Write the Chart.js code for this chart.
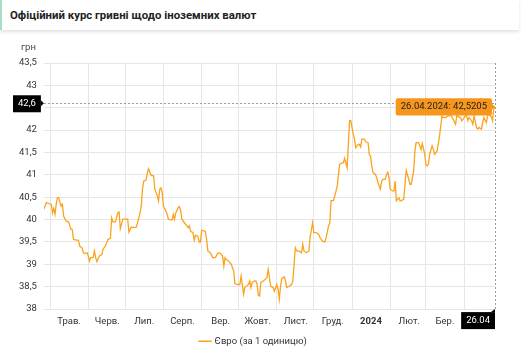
<!DOCTYPE html>
<html lang="uk">
<head>
<meta charset="utf-8">
<title>Офіційний курс гривні щодо іноземних валют</title>
<script src="https://cdn.jsdelivr.net/npm/chart.js@4.4.1/dist/chart.umd.min.js"></script>
<style>
    body {
        margin: 0;
        background: #fff;
        font-family: Roboto, "Noto Sans", sans-serif;
        width: 521px;
        height: 350px;
        overflow: hidden;
    }
    .header {
        position: absolute;
        top: 0;
        left: 0;
        width: 519px;
        height: 30px;
        border-left: 2px solid #a6dec4;
        box-shadow: 0 2px 3px rgba(0, 0, 0, 0.12);
        font-size: 11.4px;
        font-weight: bold;
        color: #222;
        line-height: 30px;
        padding-left: 8px;
        box-sizing: border-box;
    }
    .chart-box {
        position: absolute;
        top: 34px;
        left: 0;
        width: 521px;
        height: 322px;
    }
</style>
</head>
<body>
<div class="header">Офіційний курс гривні щодо іноземних валют</div>
<div class="chart-box"><canvas id="rateChart"></canvas></div>
<script>
// Курс євро: дні від 26.04.2023 та значення, грн за 1 одиницю
const startDate = new Date(2023, 3, 26);
const dayOffsets = [
    0, 2, 4, 6, 7, 8, 9, 10, 11, 12, 14, 15, 16, 18, 20, 22, 23, 24, 26, 28,
    29, 31, 32, 33, 35, 36, 37, 38, 40, 41, 42, 43, 45, 47, 48, 50, 51, 52, 54, 55,
    56, 58, 60, 61, 62, 64, 66, 68, 69, 71, 72, 75, 77, 78, 79, 80, 81, 83, 84, 85,
    86, 87, 89, 90, 92, 93, 94, 95, 96, 97, 99, 100, 101, 104, 105, 106, 107, 109, 110, 111,
    112, 114, 116, 117, 118, 119, 121, 122, 123, 125, 126, 127, 128, 131, 132, 133, 135, 137, 139, 140,
    141, 143, 145, 146, 147, 148, 150, 152, 154, 155, 157, 159, 160, 161, 162, 163, 165, 166, 167, 168,
    169, 171, 172, 173, 174, 175, 176, 178, 179, 181, 182, 183, 184, 186, 187, 188, 189, 190, 191, 192,
    193, 195, 196, 197, 199, 201, 202, 204, 205, 207, 209, 210, 211, 213, 215, 216, 218, 219, 221, 223,
    224, 226, 228, 229, 231, 232, 233, 235, 236, 238, 239, 240, 242, 243, 244, 246, 247, 248, 249, 251,
    252, 253, 255, 256, 257, 258, 260, 261, 263, 264, 265, 266, 267, 269, 270, 271, 273, 274, 275, 277,
    278, 279, 280, 281, 283, 284, 285, 286, 288, 289, 290, 292, 293, 294, 296, 297, 298, 300, 301, 302,
    304, 306, 307, 309, 310, 311, 312, 313, 315, 316, 317, 319, 321, 322, 323, 324, 326, 328, 330, 331,
    334, 335, 338, 339, 340, 342, 343, 344, 345, 347, 348, 349, 351, 352, 353, 355, 356, 357, 359, 360,
    361, 363, 364, 365, 366
];
const euroRates = [
    40.23, 40.38, 40.36, 40.34, 40.15, 40.25, 40.12, 40.34, 40.49, 40.49, 40.30, 40.34, 40.08, 39.97, 39.95, 39.78, 39.78, 39.56, 39.54, 39.54,
    39.41, 39.37, 39.26, 39.24, 39.26, 39.19, 39.07, 39.15, 39.15, 39.30, 39.15, 39.06, 39.19, 39.22, 39.34, 39.41, 39.48, 39.56, 39.58, 40.04,
    39.95, 39.95, 40.15, 40.17, 39.80, 40.01, 40.01, 40.01, 39.72, 39.84, 39.82, 39.83, 40.04, 40.15, 40.30, 40.68, 40.86, 40.89, 41.05, 41.14,
    41.05, 40.99, 40.98, 40.68, 40.53, 40.42, 40.68, 40.71, 40.60, 40.30, 40.19, 40.12, 40.01, 39.99, 40.12, 40.01, 40.15, 40.27, 40.29, 40.19,
    40.01, 39.93, 39.86, 39.82, 39.86, 39.74, 39.71, 39.54, 39.65, 39.63, 39.50, 39.50, 39.76, 39.74, 39.56, 39.30, 39.26, 39.15, 39.15, 39.19,
    39.25, 39.25, 39.19, 38.96, 39.15, 39.11, 39.07, 39.00, 38.85, 38.57, 38.55, 38.55, 38.74, 38.55, 38.33, 38.48, 38.53, 38.55, 38.63, 38.48,
    38.60, 38.63, 38.63, 38.55, 38.31, 38.29, 38.59, 38.63, 38.65, 38.70, 38.89, 38.70, 38.51, 38.48, 38.40, 38.48, 38.55, 38.44, 38.22, 38.51,
    38.68, 38.72, 38.63, 38.48, 38.51, 38.55, 38.63, 39.37, 39.30, 39.30, 39.26, 39.45, 39.30, 39.26, 39.30, 39.60, 39.93, 39.71, 39.71, 39.67,
    39.60, 39.52, 39.50, 39.60, 39.86, 39.93, 40.42, 40.43, 40.53, 40.75, 41.01, 41.24, 41.27, 41.27, 41.37, 41.16, 41.68, 42.21, 42.21, 41.91,
    41.80, 41.61, 41.68, 41.68, 41.62, 41.80, 41.80, 41.74, 41.72, 41.46, 41.42, 41.20, 41.05, 41.01, 40.94, 40.83, 40.68, 40.86, 40.90, 40.90,
    41.01, 41.06, 40.94, 40.68, 40.64, 40.64, 40.86, 40.42, 40.49, 40.42, 40.42, 40.46, 40.79, 41.10, 40.90, 40.79, 40.79, 41.09, 41.53, 41.72,
    41.72, 41.57, 41.70, 41.46, 41.22, 41.20, 41.24, 41.46, 41.65, 41.57, 41.46, 41.53, 41.87, 42.09, 42.32, 42.28, 42.28, 42.32, 42.32, 42.30,
    42.13, 42.32, 42.28, 42.21, 42.24, 42.32, 42.32, 42.21, 42.28, 42.21, 42.13, 42.32, 42.06, 42.02, 42.06, 42.02, 42.17, 42.28, 42.17, 42.32,
    42.36, 42.30, 42.21, 42.47, 42.5205
];

// Початок кожного місяця (дні від стартової дати) та підписи до них
const monthStarts = [5, 36, 66, 97, 128, 158, 189, 219, 250, 281, 310, 341];
const monthLabels = ['Трав.', 'Черв.', 'Лип.', 'Серп.', 'Вер.', 'Жовт.', 'Лист.', 'Груд.', '2024', 'Лют.', 'Бер.', ''];

// Положення курсора (перехрестя)
const crosshairValue = 42.6;
const crosshairLabel = '26.04';

const lineColor = '#fba31c';
const fontSize = 9.5;

function fmtNum(v) {
    return String(v).replace('.', ',');
}

function fmtDate(offset) {
    const d = new Date(startDate);
    d.setDate(d.getDate() + offset);
    const dd = String(d.getDate()).padStart(2, '0');
    const mm = String(d.getMonth() + 1).padStart(2, '0');
    return dd + '.' + mm + '.' + d.getFullYear();
}

const points = dayOffsets.map((d, i) => ({ x: d, y: euroRates[i] }));

// Пунктирне перехрестя, мітки осей та підпис "грн"
const crosshairPlugin = {
    id: 'crosshair',
    afterDatasetsDraw(chart) {
        const { ctx, chartArea, scales } = chart;
        const x = scales.x.getPixelForValue(dayOffsets[dayOffsets.length - 1]);
        const y = scales.y.getPixelForValue(crosshairValue);
        ctx.save();
        ctx.strokeStyle = '#9a9a9a';
        ctx.lineWidth = 1;
        ctx.setLineDash([2, 2]);
        ctx.beginPath();
        ctx.moveTo(chartArea.left, Math.round(y) + 0.5);
        ctx.lineTo(chartArea.right, Math.round(y) + 0.5);
        ctx.moveTo(Math.round(x) + 0.5, chartArea.top);
        ctx.lineTo(Math.round(x) + 0.5, chartArea.bottom);
        ctx.stroke();
        ctx.restore();
    },
    afterDraw(chart) {
        const { ctx, chartArea, scales } = chart;
        const x = scales.x.getPixelForValue(dayOffsets[dayOffsets.length - 1]);
        const y = scales.y.getPixelForValue(crosshairValue);
        ctx.save();
        ctx.font = fontSize + 'px Roboto';
        ctx.textBaseline = 'middle';

        // мітка на осі Y
        const yText = fmtNum(crosshairValue);
        const yw = ctx.measureText(yText).width + 10;
        const yr = chartArea.left - 3;
        ctx.fillStyle = '#000';
        ctx.fillRect(yr - yw, y - 8, yw, 17);
        ctx.beginPath();
        ctx.moveTo(yr, y - 3);
        ctx.lineTo(yr + 3, y);
        ctx.lineTo(yr, y + 3);
        ctx.fill();
        ctx.fillStyle = '#fff';
        ctx.textAlign = 'center';
        ctx.fillText(yText, yr - yw / 2, y + 0.5);

        // мітка на осі X
        const xw = ctx.measureText(crosshairLabel).width + 10;
        const xt = chartArea.bottom + 3;
        ctx.fillStyle = '#000';
        ctx.fillRect(x - xw, xt, xw, 17);
        ctx.beginPath();
        ctx.moveTo(x - 4, xt);
        ctx.lineTo(x, xt - 3);
        ctx.lineTo(x, xt);
        ctx.fill();
        ctx.fillStyle = '#fff';
        ctx.fillText(crosshairLabel, x - xw / 2, xt + 9);

        // одиниця виміру над віссю Y
        ctx.fillStyle = '#444';
        ctx.textAlign = 'right';
        ctx.fillText('грн', chartArea.left - 8, chartArea.top - 15);
        ctx.restore();
    }
};

const ctx = document.getElementById('rateChart').getContext('2d');

const rateChart = new Chart(ctx, {
    type: 'line',
    data: {
        datasets: [{
            label: 'Євро (за 1 одиницю)',
            data: points,
            borderColor: lineColor,
            backgroundColor: lineColor,
            borderWidth: 1.3,
            pointRadius: 0,
            pointHoverRadius: 0,
            tension: 0
        }]
    },
    options: {
        responsive: true,
        maintainAspectRatio: false,
        animation: false,
        events: [],
        layout: {
            padding: { left: 12, right: 26, top: 29, bottom: 0 }
        },
        scales: {
            x: {
                type: 'linear',
                min: 0,
                max: dayOffsets[dayOffsets.length - 1],
                afterBuildTicks(scale) {
                    scale.ticks = monthStarts.map(v => ({ value: v }));
                },
                grid: { color: '#e6e6e6', drawTicks: false },
                border: { display: false },
                ticks: {
                    autoSkip: false,
                    maxRotation: 0,
                    padding: 7,
                    labelOffset: 19,
                    color: '#333',
                    font: (c) => ({
                        family: 'Roboto',
                        size: fontSize,
                        weight: c.tick && c.tick.label === '2024' ? 'bold' : 'normal'
                    }),
                    callback: (value, index) => monthLabels[index]
                }
            },
            y: {
                min: 38,
                max: 43.5,
                grid: { color: '#e6e6e6', drawTicks: false },
                border: { display: false },
                ticks: {
                    stepSize: 0.5,
                    padding: 7,
                    color: '#333',
                    font: { family: 'Roboto', size: fontSize },
                    callback: (value) => fmtNum(value)
                }
            }
        },
        plugins: {
            legend: {
                position: 'bottom',
                labels: {
                    usePointStyle: true,
                    pointStyle: 'line',
                    boxWidth: 13,
                    color: '#333',
                    font: { family: 'Roboto', size: fontSize },
                    padding: 2
                }
            },
            tooltip: {
                enabled: true,
                backgroundColor: '#f7961d',
                bodyColor: '#222',
                bodyFont: { family: 'Roboto', size: fontSize },
                displayColors: false,
                xAlign: 'right',
                yAlign: 'center',
                caretSize: 3,
                caretPadding: 0,
                cornerRadius: 2,
                padding: { top: 3, bottom: 3, left: 5, right: 5 },
                callbacks: {
                    title: () => '',
                    label: (item) => fmtDate(item.raw.x) + ': ' + fmtNum(item.raw.y)
                }
            }
        }
    },
    plugins: [crosshairPlugin]
});

// Показати підказку для останнього значення
const lastIndex = points.length - 1;
const lastMeta = rateChart.getDatasetMeta(0).data[lastIndex];
rateChart.tooltip.setActiveElements([{ datasetIndex: 0, index: lastIndex }], { x: lastMeta.x, y: lastMeta.y });
rateChart.update();
</script>
</body>
</html>
